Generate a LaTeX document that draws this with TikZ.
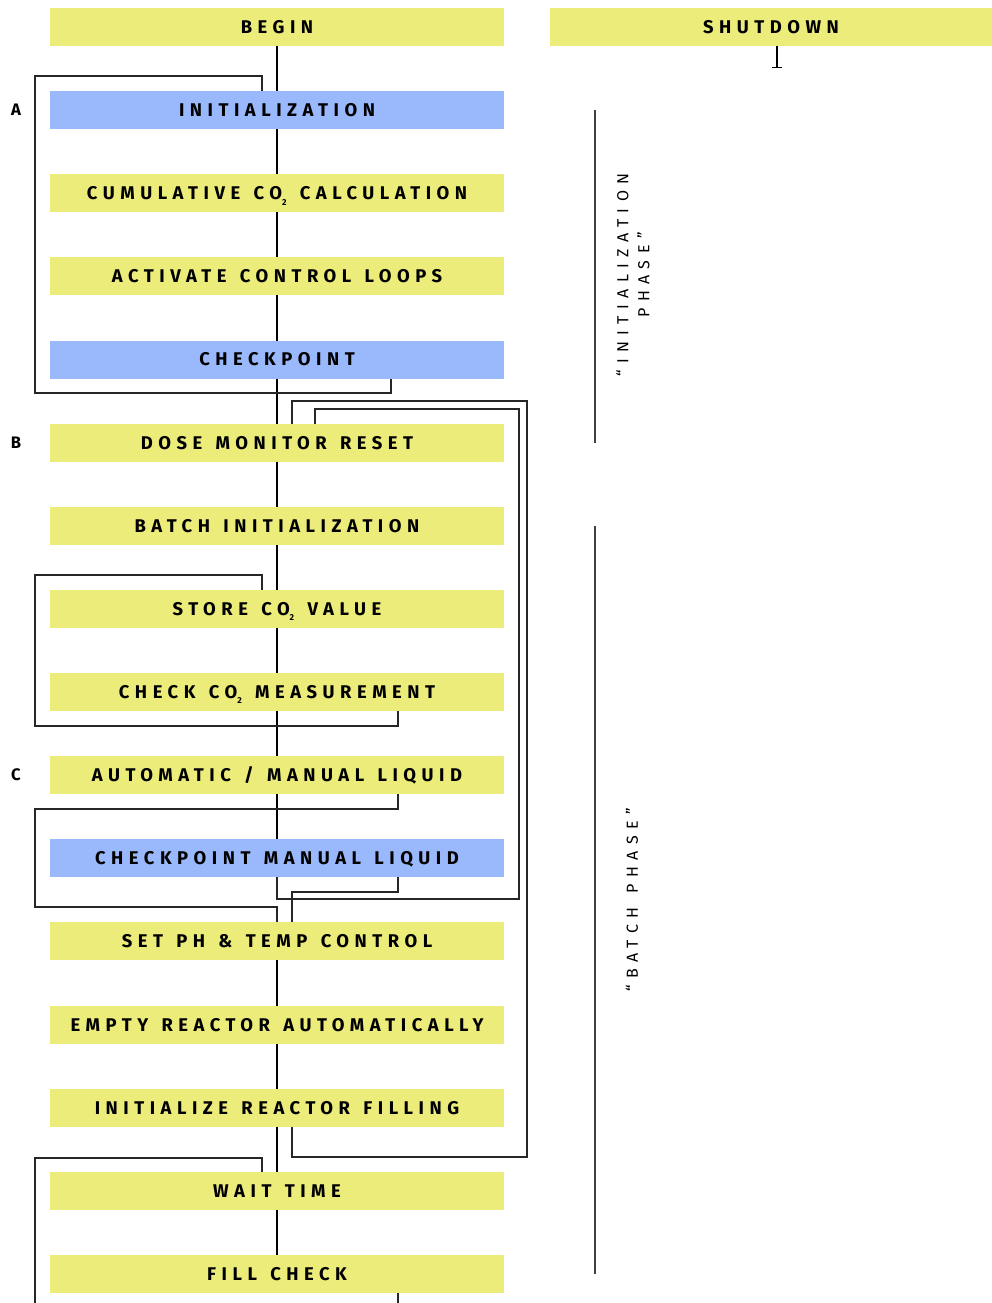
\documentclass[tikz,border=0pt]{standalone}
\usepackage{fontspec}
\setmainfont{Fira Sans}
\newfontfamily\stepfont[LetterSpace=30,WordSpace=1.35]{Fira Sans}
\newfontfamily\phasefont[LetterSpace=40,WordSpace=1.35]{Fira Sans}
\usetikzlibrary{positioning,arrows.meta}

\definecolor{stepyellow}{RGB}{236,236,123}
\definecolor{checkblue}{RGB}{154,185,252}

\newcommand{\cotwo}{CO\raisebox{-0.55ex}{\fontsize{6.5}{6.5}\selectfont 2}}

\begin{document}
\begin{tikzpicture}[x=0.75pt,y=-0.75pt, node distance=33.85pt,
      every node/.append style={inner sep=0pt, outer sep=0pt},
      stepbox/.style={rectangle, fill=stepyellow, minimum width=340.5pt, minimum height=28.5pt,
        text height=9.6pt, text depth=0pt,
        font=\stepfont\bfseries\fontsize{13.8}{15}\selectfont},
      checkbox/.style={stepbox, fill=checkblue},
      partlabel/.style={font=\bfseries\fontsize{12.5}{14}\selectfont},
      phase/.style={rotate=90, align=center, font=\phasefont\fontsize{12}{15.75}\selectfont},
      flow/.style={line width=0.8pt},
      backloop/.style={line width=0.8pt, black!85}]
    \useasboundingbox (0,0) rectangle (992,1303);

    % steps
    \node[stepbox] (begin) at (277,27) {BEGIN};
    \node[checkbox, below=of begin] (init) {INITIALIZATION};
    \node[stepbox, below=of init] (cumul) {CUMULATIVE \cotwo{} CALCULATION};
    \node[stepbox, below=of cumul] (activate) {ACTIVATE CONTROL LOOPS};
    \node[checkbox, below=of activate] (chk) {CHECKPOINT};
    \node[stepbox, below=of chk] (dose) {DOSE MONITOR RESET};
    \node[stepbox, below=of dose] (batch) {BATCH INITIALIZATION};
    \node[stepbox, below=of batch] (store) {STORE \cotwo{} VALUE};
    \node[stepbox, below=of store] (checkco) {CHECK \cotwo{} MEASUREMENT};
    \node[stepbox, below=of checkco] (auto) {AUTOMATIC / MANUAL LIQUID};
    \node[checkbox, below=of auto] (chkman) {CHECKPOINT MANUAL LIQUID};
    \node[stepbox, below=of chkman] (setph) {SET PH \& TEMP CONTROL};
    \node[stepbox, below=of setph] (empty) {EMPTY REACTOR AUTOMATICALLY};
    \node[stepbox, below=of empty] (initfill) {INITIALIZE REACTOR FILLING};
    \node[stepbox, below=of initfill] (wait) {WAIT TIME};
    \node[stepbox, below=of wait] (fillchk) {FILL CHECK};
    \node[stepbox, minimum width=331.5pt] (shutdown) at (771,27) {SHUTDOWN};

    % columns and bends
    \coordinate (xL) at (35,0);
    \coordinate (xIn) at (262,0);
    \coordinate (xA) at (391,0);
    \coordinate (xR) at (398,0);
    \coordinate (xB) at (292,0);
    \coordinate (xBi) at (315,0);
    \coordinate (xTag) at (16,0);
    \coordinate (xPh) at (595,0);
    \coordinate (aTop) at (35,76);
    \coordinate (aBot) at (35,393);
    \coordinate (sTop) at (35,575);
    \coordinate (sBot) at (35,726);
    \coordinate (cTop) at (35,809);
    \coordinate (cBot) at (35,907);
    \coordinate (mBend) at (292,892);
    \coordinate (iBot) at (519,899);
    \coordinate (iTop) at (519,409);
    \coordinate (oBot) at (527,1157);
    \coordinate (oTop) at (527,401);
    \coordinate (zTop) at (35,1158);
    \coordinate (zBot) at (35,1318);
    \coordinate (stop) at (777,68);

    % main line
    \foreach \a/\b in {begin/init, init/cumul, cumul/activate, activate/chk, chk/dose,
        dose/batch, batch/store, store/checkco, checkco/auto, auto/chkman,
        setph/empty, empty/initfill, initfill/wait, wait/fillchk}
      \draw[flow] (\a.south) -- (\b.north);
    \draw[flow, -{Bar[width=7.5pt]}] (shutdown.south -| stop) -- (stop);

    % loops
    \draw[backloop] (chk.south -| xA) |- (aBot) |- (aTop) -| (init.north -| xIn);
    \draw[backloop] (checkco.south -| xR) |- (sBot) |- (sTop) -| (store.north -| xIn);
    \draw[backloop] (auto.south -| xR) |- (cTop) |- (cBot) -| (setph.north);
    \draw[backloop] (chkman.south -| xR) |- (mBend) -| (setph.north -| xB);
    \draw[backloop] (chkman.south) |- (iBot) |- (iTop) -| (dose.north -| xBi);
    \draw[backloop] (initfill.south -| xB) |- (oBot) |- (oTop) -| (dose.north -| xB);
    \draw[backloop] (fillchk.south -| xR) |- (zBot) |- (zTop) -| (wait.north -| xIn);

    % part letters
    \node[partlabel] (tagA) at (init -| xTag) {A};
    \node[partlabel] (tagB) at (dose -| xTag) {B};
    \node[partlabel] (tagC) at (auto -| xTag) {C};

    % phases
    \draw[flow, black!75] (init -| xPh) -- (dose -| xPh);
    \draw[flow, black!75] (batch -| xPh) -- (fillchk -| xPh);
    \node[phase] (phaseInit) at (633,275) {“INITIALIZATION\\PHASE”};
    \node[phase] (phaseBatch) at (632,900) {“BATCH PHASE”};
\end{tikzpicture}
\end{document}
